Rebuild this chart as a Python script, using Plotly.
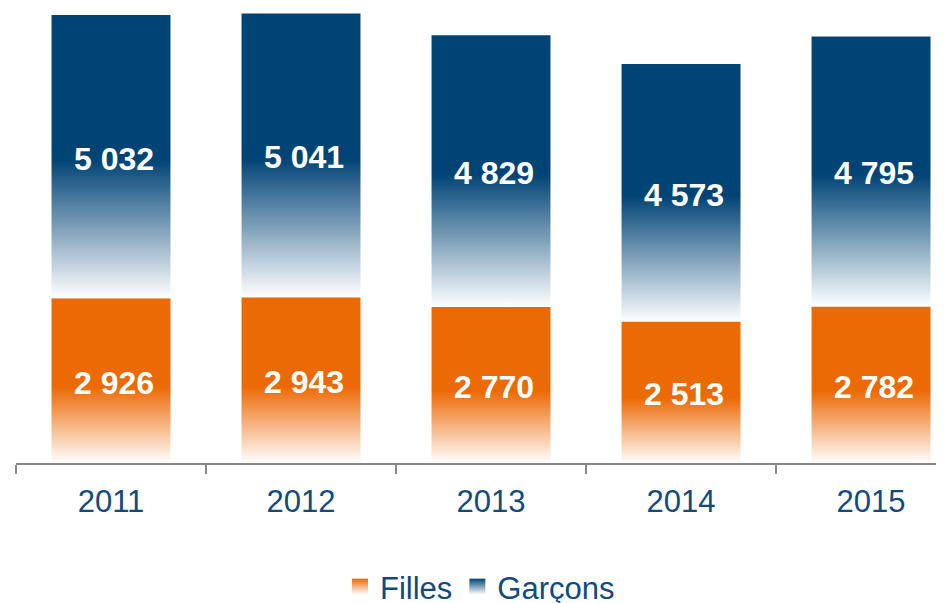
import plotly.graph_objects as go

years = ["2011", "2012", "2013", "2014", "2015"]
filles = [2926, 2943, 2770, 2513, 2782]
garcons = [5032, 5041, 4829, 4573, 4795]

ORANGE = "#EC6A06"
BLUE = "#004375"
TXT = "#0F4B80"
FONT = "Liberation Sans"
HALF = 0.313

def fmt(v):
    return f"{v:,}".replace(",", " ")

fig = go.Figure()

def add_bar(i, base, val, color, stop):
    x0, x1 = i - HALF, i + HALF
    fig.add_trace(go.Scatter(
        x=[x0, x1, x1, x0, x0], y=[base, base, base + val, base + val, base],
        mode="none", fill="toself",
        fillgradient=dict(type="vertical",
                          colorscale=[[0, "#FFFFFF"], [stop, color], [1, color]]),
        showlegend=False, hoverinfo="skip",
    ))

for i in range(len(years)):
    add_bar(i, 0, filles[i], ORANGE, 0.46)
    add_bar(i, filles[i], garcons[i], BLUE, 0.49)

xs = list(range(len(years)))
lab_font = dict(family=FONT, size=32, color="white", weight="bold")
for i in xs:
    fig.add_annotation(x=i, y=filles[i] / 2, text=fmt(filles[i]), showarrow=False,
                       font=lab_font, xshift=3, yshift=-2)
    fig.add_annotation(x=i, y=filles[i] + garcons[i] / 2, text=fmt(garcons[i]),
                       showarrow=False, font=lab_font, xshift=3, yshift=-2)

for name, color in [("Filles", ORANGE), ("Garçons", BLUE)]:
    fig.add_trace(go.Scatter(
        x=[None], y=[None], mode="markers", name=name,
        marker=dict(symbol="square", size=17, color=color,
                    gradient=dict(type="vertical", color="#FFFFFF")),
    ))

fig.update_layout(
    width=936, height=595,
    margin=dict(l=8, r=0, t=0, b=140, autoexpand=False),
    paper_bgcolor="white", plot_bgcolor="white",
    font=dict(family=FONT, color=TXT),
    showlegend=True,
    legend=dict(orientation="h", x=0.5, xanchor="center",
                yref="container", y=16 / 595, yanchor="middle",
                font=dict(size=31, color=TXT, family=FONT), itemsizing="trace",
                bgcolor="rgba(0,0,0,0)"),
    xaxis=dict(range=[-0.5, 4.384], tickmode="array", tickvals=xs, ticktext=years,
               ticks="", showgrid=False, zeroline=False, automargin=False,
               showline=True, linecolor="#888888", linewidth=2,
               tickfont=dict(size=31, color=TXT, family=FONT),
               ticklabelstandoff=10,
               minor=dict(tickmode="array", tickvals=[-0.5, 0.5, 1.5, 2.5, 3.5, 4.5],
                          ticks="outside", ticklen=9, tickwidth=2, tickcolor="#888888",
                          showgrid=False),
               fixedrange=True),
    yaxis=dict(range=[0, 8082], visible=False, showgrid=False, zeroline=False,
               automargin=False, fixedrange=True),
)

fig.write_html("out.html")
